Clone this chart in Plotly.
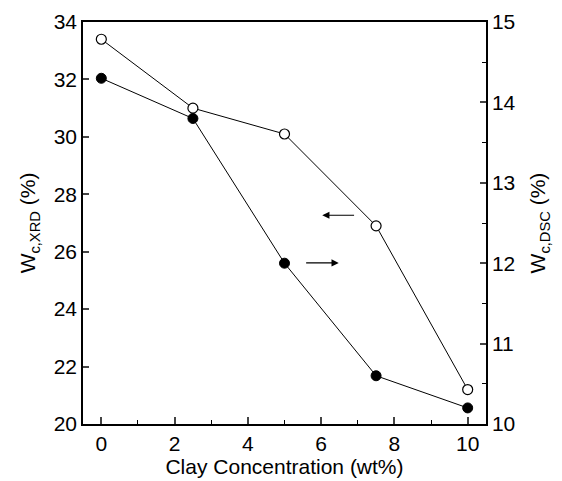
import plotly.graph_objects as go

clay = [0, 2.5, 5, 7.5, 10]
wc_xrd = [33.4, 31.0, 30.1, 26.9, 21.2]
wc_dsc = [14.3, 13.8, 12.0, 10.6, 10.2]

x_ticks = [0, 2, 4, 6, 8, 10]
y1_ticks = [20, 22, 24, 26, 28, 30, 32, 34]
y2_ticks = [10, 11, 12, 13, 14, 15]

font_family = "Liberation Sans, Arial, sans-serif"

fig = go.Figure()
fig.add_trace(go.Scatter(
    x=clay, y=wc_xrd, mode="lines+markers", yaxis="y",
    line=dict(color="black", width=1),
    marker=dict(symbol="circle", size=10, color="white", line=dict(color="black", width=1.2)),
    showlegend=False,
))
fig.add_trace(go.Scatter(
    x=clay, y=wc_dsc, mode="lines+markers", yaxis="y2",
    line=dict(color="black", width=1),
    marker=dict(symbol="circle", size=10, color="black", line=dict(color="black", width=1)),
    showlegend=False,
))

# arrows
fig.add_annotation(x=6.03, y=27.27, ax=6.94, ay=27.27, xref="x", yref="y", axref="x", ayref="y",
                   text="", showarrow=True, arrowhead=2, arrowsize=1.2, arrowwidth=1.2, arrowcolor="black")
fig.add_annotation(x=6.48, y=25.61, ax=5.55, ay=25.61, xref="x", yref="y", axref="x", ayref="y",
                   text="", showarrow=True, arrowhead=2, arrowsize=1.2, arrowwidth=1.2, arrowcolor="black")

fig.update_layout(
    width=562, height=481,
    margin=dict(l=83, r=76, t=22, b=57),
    paper_bgcolor="white", plot_bgcolor="white",
    font=dict(family=font_family, color="black", size=21),
    xaxis=dict(
        range=[-0.5, 10.5], tickvals=x_ticks, ticks="inside", ticklen=7, tickwidth=1.5,
        showline=True, linewidth=1.5, linecolor="black", mirror=True,
        showgrid=False, zeroline=False, automargin=False,
        minor=dict(tickvals=[1, 3, 5, 7, 9], ticks="inside", ticklen=4, tickwidth=1.2, tickcolor="black"),
        title=dict(text="Clay Concentration (wt%)", font=dict(size=21), standoff=4),
        tickfont=dict(size=21),
    ),
    yaxis=dict(
        range=[20, 34], tickvals=y1_ticks, ticks="inside", ticklen=6, tickwidth=1.5,
        showline=True, linewidth=1.5, linecolor="black",
        showgrid=False, zeroline=False, automargin=False,
        title=dict(text="W<sub>c,XRD</sub> (%)", font=dict(size=21), standoff=12),
        tickfont=dict(size=21),
    ),
    yaxis2=dict(
        range=[10, 15], tickvals=y2_ticks, ticks="inside", ticklen=6, tickwidth=1.5,
        overlaying="y", side="right",
        showline=True, linewidth=1.5, linecolor="black",
        showgrid=False, zeroline=False, automargin=False,
        minor=dict(tickvals=[10.5, 11.5, 12.5, 13.5, 14.5], ticks="inside", ticklen=4, tickwidth=1.2, tickcolor="black"),
        title=dict(text="W<sub>c,DSC</sub> (%)", font=dict(size=21), standoff=16),
        tickfont=dict(size=21),
    ),
)

fig.write_html("out.html", config={"displayModeBar": False},
               post_script="document.body.style.margin='0';document.body.style.overflow='hidden';")
